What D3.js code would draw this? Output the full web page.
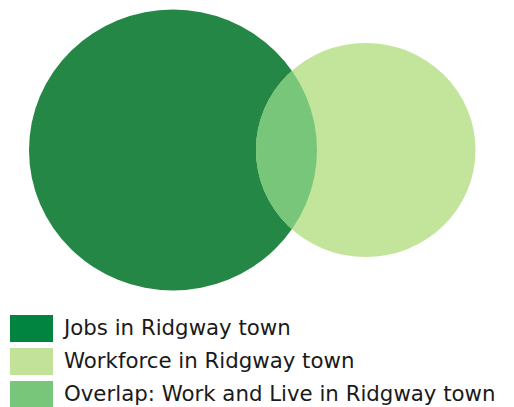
<!DOCTYPE html>
<html>
<head>
<meta charset="utf-8">
<script src="https://cdn.jsdelivr.net/npm/d3@7"></script>
<style>
  body { margin: 0; background: #fff; }
  svg { display: block; }
  .legend text { font-family: "DejaVu Sans", sans-serif; font-size: 21.3px; fill: #1a1a1a; }
</style>
</head>
<body>
<div id="venn"></div>
<script>
// data
var setNames = ["Jobs in Ridgway town", "Workforce in Ridgway town"];
var setSizes = [1720, 1000];
var overlapSize = 180;
var legendLabels = ["Jobs in Ridgway town", "Workforce in Ridgway town", "Overlap: Work and Live in Ridgway town"];
var circleColors = ["#248745", "#c2e59b", "#78c679"];
var legendColors = ["#00843f", "#c2e29a", "#78c679"];

var width = 514, height = 407;

var svg = d3.select("#venn")
  .append("svg")
  .attr("width", width)
  .attr("height", height);

// radius from area
var rScale = d3.scaleSqrt()
  .domain([0, d3.max(setSizes)])
  .range([0, 144]);

var r1 = rScale(setSizes[0]);
var r2 = rScale(setSizes[1]);
var overlapArea = Math.PI * r1 * r1 * overlapSize / setSizes[0];

function lensArea(d) {
  if (d >= r1 + r2) return 0;
  if (d <= Math.abs(r1 - r2)) return Math.PI * Math.min(r1, r2) * Math.min(r1, r2);
  var a1 = Math.acos((d * d + r1 * r1 - r2 * r2) / (2 * d * r1));
  var a2 = Math.acos((d * d + r2 * r2 - r1 * r1) / (2 * d * r2));
  var t = Math.sqrt((-d + r1 + r2) * (d + r1 - r2) * (d - r1 + r2) * (d + r1 + r2));
  return r1 * r1 * a1 + r2 * r2 * a2 - 0.5 * t;
}

// find centre distance that gives the overlap area
var lo = Math.abs(r1 - r2), hi = r1 + r2;
for (var i = 0; i < 60; i++) {
  var mid = (lo + hi) / 2;
  if (lensArea(mid) > overlapArea) lo = mid; else hi = mid;
}
var dist = (lo + hi) / 2;

var xScale = d3.scaleLinear()
  .domain([0, dist])
  .range([29 + r1, 29 + r1 + dist]);

var circles = [
  { name: setNames[0], cx: xScale(0), r: r1, color: circleColors[0] },
  { name: setNames[1], cx: xScale(dist), r: r2, color: circleColors[1] }
];

var g = svg.append("g")
  .attr("transform", "translate(0,150) scale(1,0.975)");

g.append("clipPath")
  .attr("id", "clip-jobs")
  .append("circle")
  .attr("cx", circles[0].cx)
  .attr("cy", 0)
  .attr("r", circles[0].r);

g.selectAll(".set")
  .data(circles)
  .enter()
  .append("circle")
  .attr("class", "set")
  .attr("cx", function(d) { return d.cx; })
  .attr("cy", 0)
  .attr("r", function(d) { return d.r; })
  .style("fill", function(d) { return d.color; });

// overlap lens
g.append("circle")
  .attr("cx", circles[1].cx)
  .attr("cy", 0)
  .attr("r", circles[1].r)
  .attr("clip-path", "url(#clip-jobs)")
  .style("fill", circleColors[2]);

// legend
var yLegend = d3.scaleBand()
  .domain(legendLabels)
  .range([315, 408])
  .paddingInner(6 / 33);

var legend = svg.append("g").attr("class", "legend");

var item = legend.selectAll(".item")
  .data(legendLabels)
  .enter()
  .append("g")
  .attr("class", "item");

item.append("rect")
  .attr("x", 10)
  .attr("y", function(d) { return yLegend(d); })
  .attr("width", 43)
  .attr("height", yLegend.bandwidth())
  .style("fill", function(d, i) { return legendColors[i]; });

item.append("text")
  .attr("x", 64)
  .attr("y", function(d) { return yLegend(d) + 20; })
  .text(function(d) { return d; });
</script>
</body>
</html>
